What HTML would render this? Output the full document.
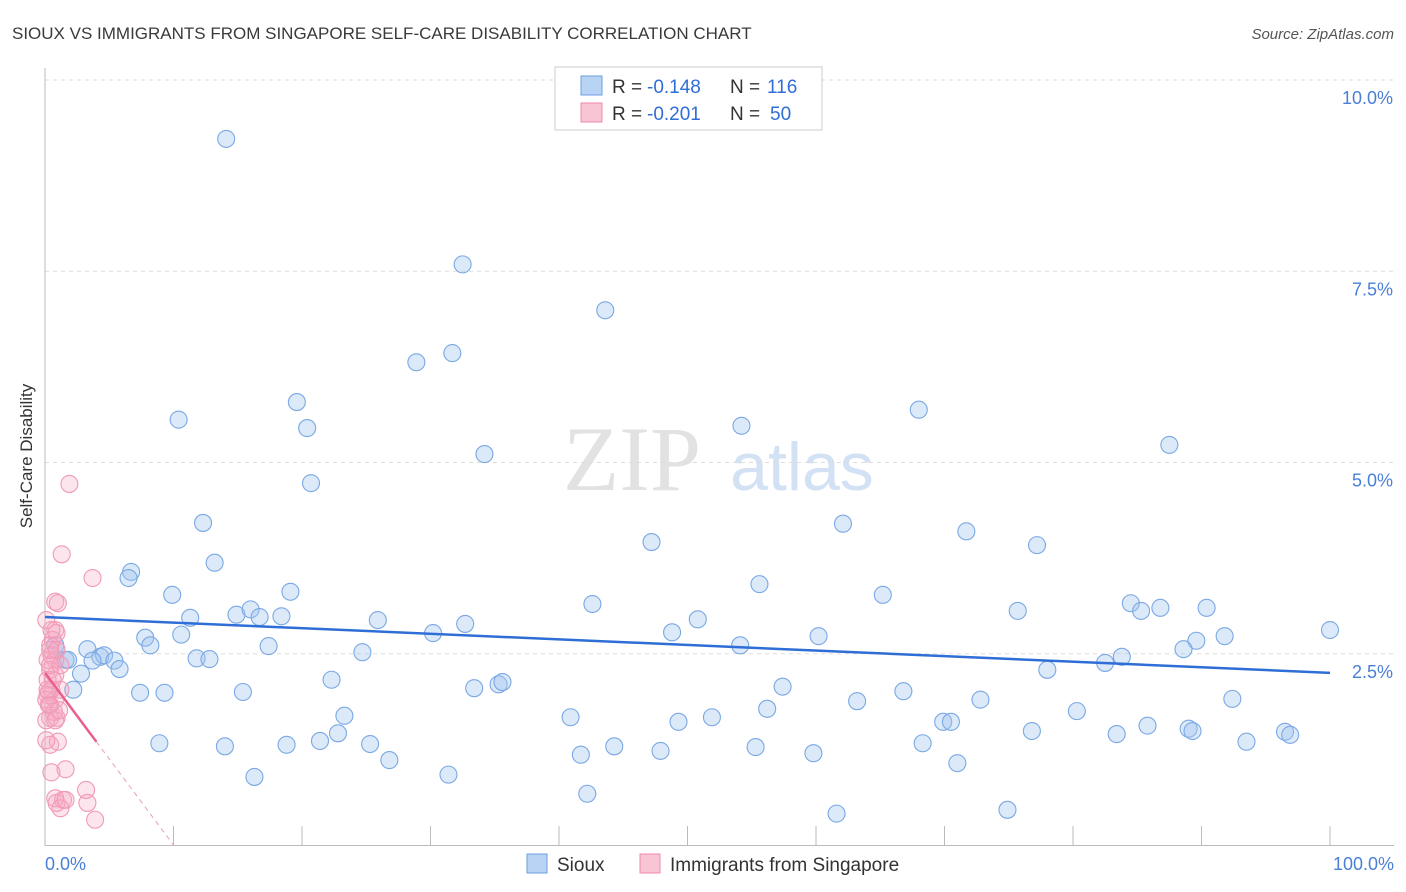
<!DOCTYPE html>
<html><head><meta charset="utf-8"><style>
body{margin:0;background:#fff;font-family:"Liberation Sans",sans-serif;}
svg{display:block}
</style></head><body>
<svg id="c" width="1406" height="892" xmlns="http://www.w3.org/2000/svg">
<text x="12" y="39" font-size="17" fill="#3a3a3a">SIOUX VS IMMIGRANTS FROM SINGAPORE SELF-CARE DISABILITY CORRELATION CHART</text>
<text x="1394" y="39" font-size="15" fill="#555" font-style="italic" text-anchor="end">Source: ZipAtlas.com</text>
<g>
<text x="632" y="490" font-size="92" fill="#e2e2e2" font-family="Liberation Serif,serif" text-anchor="middle">ZIP</text>
<text x="802" y="490" font-size="68" fill="#d3e1f5" text-anchor="middle">atlas</text>
</g>
<g id="grid"></g><g id="ticks"></g>
<line x1="45" y1="68" x2="45" y2="846" stroke="#bbb"/>
<line x1="45" y1="845.5" x2="1394" y2="845.5" stroke="#bbb"/>
<text x="32" y="456" font-size="17" fill="#333" text-anchor="middle" transform="rotate(-90 32 456)">Self-Care Disability</text>
<text x="45" y="870" font-size="18" fill="#4a7fd8">0.0%</text>
<text x="1394" y="870" font-size="18" fill="#4a7fd8" text-anchor="end">100.0%</text>
<g id="pts"></g><g id="trend"></g>
<g>
<rect x="555" y="67" width="267" height="63" fill="#fff" stroke="#ccc"/>
<rect x="581" y="76" width="21" height="19" fill="#b9d3f5" stroke="#6a9fe0"/>
<rect x="581" y="103" width="21" height="19" fill="#f8c5d5" stroke="#ee8aa8"/>
<text x="612" y="93" font-size="19" fill="#333">R = </text><text x="647" y="93" font-size="19" fill="#2f6ed6">-0.148</text>
<text x="730" y="93" font-size="19" fill="#333">N = </text><text x="767" y="93" font-size="19" fill="#2f6ed6">116</text>
<text x="612" y="120" font-size="19" fill="#333">R = </text><text x="647" y="120" font-size="19" fill="#2f6ed6">-0.201</text>
<text x="730" y="120" font-size="19" fill="#333">N = </text><text x="770" y="120" font-size="19" fill="#2f6ed6">50</text>
</g>
<g>
<rect x="527" y="854" width="20" height="19" fill="#b9d3f5" stroke="#6a9fe0"/>
<text x="557" y="871" font-size="19" fill="#333">Sioux</text>
<rect x="640" y="854" width="20" height="19" fill="#f8c5d5" stroke="#ee8aa8"/>
<text x="670" y="871" font-size="19" fill="#333">Immigrants from Singapore</text>
</g>
</svg>
<script>
const yTicks=[2.5,5,7.5,10];
const yTickLabels=["2.5%","5.0%","7.5%","10.0%"];
const xTicks=[10,20,30,40,50,60,70,80,90,100];
const siouxX=[14.1,32.5,43.6,28.9,31.7,10.4,19.6,20.4,34.2,20.7,54.2,68.0,87.5,12.3,13.2,47.2,62.1,71.7,77.2,6.7,6.5,9.9,11.3,14.9,16.0,16.7,18.4,19.1,25.9,32.7,42.6,50.8,55.6,65.2,75.7,84.5,85.3,86.8,90.4,100,3.3,4.3,4.6,5.4,5.8,3.7,7.8,8.2,10.6,11.8,12.8,17.4,24.7,30.2,48.8,54.1,60.2,89.6,88.6,91.8,78.0,82.5,83.8,0.8,0.9,1.6,1.8,2.2,2.8,7.4,9.3,15.4,22.3,33.4,35.3,35.6,57.4,63.2,66.8,72.8,92.4,40.9,23.3,49.3,51.9,56.2,80.3,8.9,14.0,18.8,21.4,22.8,25.3,26.8,31.4,16.3,41.7,44.3,47.9,55.3,59.8,68.3,69.9,70.5,71.0,76.8,83.4,85.8,89.0,89.3,93.5,96.5,96.9,42.2,61.6,74.9];
const siouxY=[9.23,7.59,6.99,6.31,6.43,5.56,5.79,5.45,5.11,4.73,5.48,5.69,5.23,4.21,3.69,3.96,4.20,4.10,3.92,3.57,3.49,3.27,2.97,3.01,3.08,2.98,2.99,3.31,2.94,2.89,3.15,2.95,3.41,3.27,3.06,3.16,3.06,3.10,3.10,2.81,2.56,2.46,2.48,2.41,2.30,2.41,2.71,2.61,2.75,2.44,2.43,2.60,2.52,2.77,2.78,2.61,2.73,2.67,2.56,2.73,2.29,2.38,2.46,2.61,2.55,2.42,2.42,2.03,2.24,1.99,1.99,2.00,2.16,2.05,2.10,2.13,2.07,1.88,2.01,1.90,1.91,1.67,1.69,1.61,1.67,1.78,1.75,1.33,1.29,1.31,1.36,1.46,1.32,1.11,0.92,0.89,1.18,1.29,1.23,1.28,1.20,1.33,1.61,1.61,1.07,1.49,1.45,1.56,1.52,1.49,1.35,1.48,1.44,0.67,0.41,0.46];
const sgX=[1.9,1.3,3.7,0.8,1.0,0.8,0.9,0.6,0.4,0.5,0.8,0.4,0.8,0.2,0.5,0.2,0.8,0.4,0.7,0.4,0.9,0.4,1.0,0.5,1.6,0.8,1.4,0.9,1.2,1.6,3.2,3.3,3.9,0.3,0.1,1.2,0.2,0.5,0.1,0.9,0.1,0.3,0.6,0.4,0.8,1.2,0.1,1.1,0.4,0.2];
const sgY=[4.72,3.80,3.49,3.18,3.16,2.81,2.77,2.68,2.61,2.48,2.42,2.29,2.22,2.16,2.03,1.96,1.90,1.83,1.74,1.66,1.66,1.31,1.35,0.95,0.99,0.61,0.59,0.55,0.48,0.59,0.72,0.55,0.33,2.0,1.63,2.03,2.42,2.81,2.94,2.55,1.90,1.83,2.16,2.35,1.63,2.35,1.37,1.76,2.55,2.03];
const siouxTrend=[2.98,2.25];
const sgTrend=[2.25,0];
const X=v=>45+v*12.85, Y=v=>845-v*76.5;
const NS="http://www.w3.org/2000/svg";
function mk(t,a,p){const e=document.createElementNS(NS,t);for(const k in a)e.setAttribute(k,a[k]);p.appendChild(e);return e;}
const g=document.getElementById('grid'),tk=document.getElementById('ticks'),pts=document.getElementById('pts'),tr=document.getElementById('trend');
yTicks.forEach((v,i)=>{
 const l=mk('line',{x1:45,x2:1394,y1:Y(v),y2:Y(v),stroke:'#ddd','stroke-dasharray':'4,4'},g);
 
 
 const t=mk('text',{x:1393,y:Y(v)+24,'font-size':18,fill:'#4a7fd8','text-anchor':'end'},g);
 t.textContent=yTickLabels[i];
 
 
});
xTicks.forEach(v=>{
 const l=mk('line',{x1:X(v),x2:X(v),y1:826,y2:846,stroke:'#bbb'},tk);
 
 
});
siouxX.forEach((v,i)=>{
 const c=mk('circle',{cx:X(v),cy:Y(siouxY[i]),r:8.5,fill:'rgba(160,196,240,0.38)',stroke:'#7aa8e4','stroke-width':1.1},pts);
 
 
});
sgX.forEach((v,i)=>{
 const c=mk('circle',{cx:X(v),cy:Y(sgY[i]),r:8.5,fill:'rgba(245,170,195,0.3)',stroke:'#f09ab5','stroke-width':1.1},pts);
 
 
});
const bl=mk('line',{x1:X(0),y1:Y(siouxTrend[0]),x2:X(100),y2:Y(siouxTrend[1]),stroke:'#2f6ed6','stroke-width':2.5},tr);


const slope=(sgTrend[1]-sgTrend[0])/10;
const pl=mk('line',{x1:X(0),y1:Y(sgTrend[0]),x2:X(4),y2:Y(sgTrend[0]+slope*4),stroke:'#e8608a','stroke-width':2.5},tr);


const pd=mk('line',{x1:X(4),y1:Y(sgTrend[0]+slope*4),x2:X(10),y2:Y(sgTrend[1]),stroke:'#e8a0b8','stroke-width':1,'stroke-dasharray':'5,4'},tr);


</script>
</body></html>
